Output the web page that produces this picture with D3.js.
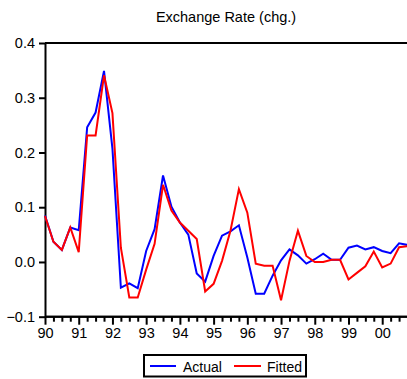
<!DOCTYPE html>
<html>
<head>
<meta charset="utf-8">
<script src="https://cdn.jsdelivr.net/npm/d3@7"></script>
<style>
  html, body { margin: 0; padding: 0; background: #fff; }
  svg { display: block; font-family: "Liberation Sans", Arial, sans-serif; }
</style>
</head>
<body>
<svg id="chart" width="407" height="379"></svg>
<script>
// Quarterly exchange rate changes, 1990Q1 - 2000Q4
const startYear = 1990;
const actual = [0.085, 0.037, 0.022, 0.063, 0.058, 0.246, 0.273, 0.349, 0.207, -0.047,
  -0.039, -0.048, 0.020, 0.060, 0.158, 0.101, 0.072, 0.050, -0.021, -0.036,
  0.011, 0.048, 0.056, 0.067, 0.008, -0.058, -0.058, -0.025, 0.003, 0.023,
  0.012, -0.003, 0.005, 0.015, 0.004, 0.004, 0.026, 0.030, 0.023, 0.027,
  0.020, 0.016, 0.034, 0.031];
const fitted = [0.084, 0.037, 0.022, 0.063, 0.018, 0.231, 0.231, 0.341, 0.272, 0.026,
  -0.065, -0.065, -0.014, 0.033, 0.141, 0.094, 0.072, 0.057, 0.042, -0.054,
  -0.040, 0.002, 0.057, 0.133, 0.090, -0.003, -0.007, -0.007, -0.070, 0.002,
  0.057, 0.011, 0.000, 0.000, 0.004, 0.004, -0.032, -0.020, -0.008, 0.019,
  -0.010, -0.003, 0.027, 0.029];
const yearTicks = [1990, 1991, 1992, 1993, 1994, 1995, 1996, 1997, 1998, 1999, 2000];
const yTicks = [-0.1, 0.0, 0.1, 0.2, 0.3, 0.4];
const seriesNames = ["Actual", "Fitted"];
const seriesColors = ["#0000ff", "#ff0000"];

const svg = d3.select("#chart");
const plotLeft = 45, plotRight = 407.5, plotTop = 43, plotBottom = 316.7;

const x = d3.scaleLinear().domain([1990, 2000.75]).range([plotLeft, plotRight]);
const y = d3.scaleLinear().domain([-0.1, 0.4]).range([plotBottom, plotTop]);

// Title
svg.append("text")
  .attr("x", 226).attr("y", 22)
  .attr("text-anchor", "middle")
  .attr("font-size", 14.5)
  .text("Exchange Rate (chg.)");

// Top frame line
svg.append("line")
  .attr("x1", plotLeft).attr("x2", 407)
  .attr("y1", plotTop).attr("y2", plotTop)
  .attr("stroke", "#000").attr("stroke-width", 2);

// Y axis
const yAxis = svg.append("g")
  .attr("transform", `translate(${plotLeft},0)`)
  .call(d3.axisLeft(y).tickValues(yTicks).tickFormat(d3.format(".1f")).tickSize(6).tickSizeOuter(0).tickPadding(4));
yAxis.selectAll("text").attr("font-size", 14.5).attr("fill", "#000").style("font-family", "Liberation Sans, Arial, sans-serif");

// X axis: quarterly minor ticks, yearly labels
const quarterTicks = d3.range(0, 44).map(i => startYear + i / 4);
const xMinor = svg.append("g")
  .attr("transform", `translate(0,${plotBottom})`)
  .call(d3.axisBottom(x).tickValues(quarterTicks.filter(v => v % 1 !== 0)).tickFormat("").tickSize(5).tickSizeOuter(0));
const xAxis = svg.append("g")
  .attr("transform", `translate(0,${plotBottom})`)
  .call(d3.axisBottom(x).tickValues(yearTicks).tickFormat(d => String(d).slice(2)).tickSize(8).tickSizeOuter(0).tickPadding(3));
xAxis.selectAll("text").attr("font-size", 14.5).attr("fill", "#000").style("font-family", "Liberation Sans, Arial, sans-serif");

[yAxis, xMinor, xAxis].forEach(g => {
  g.selectAll("line").attr("stroke", "#000").attr("stroke-width", 2);
  g.select(".domain").attr("stroke", "#000").attr("stroke-width", 2);
});
xMinor.select(".domain").attr("d", `M${plotLeft},0H407`);
xAxis.select(".domain").attr("d", `M${plotLeft},0H407`);

// Series lines
const line = d3.line()
  .x((d, i) => x(startYear + i / 4))
  .y(d => y(d));

const plot = svg.append("g");
[actual, fitted].forEach((series, k) => {
  plot.append("path")
    .datum(series)
    .attr("fill", "none")
    .attr("stroke", seriesColors[k])
    .attr("stroke-width", 2)
    .attr("stroke-linejoin", "miter")
    .attr("d", line);
});

// Legend
const legend = svg.append("g");
legend.append("rect")
  .attr("x", 144).attr("y", 355)
  .attr("width", 162).attr("height", 21.5)
  .attr("fill", "#fff").attr("stroke", "#000").attr("stroke-width", 2);
const legendItems = [
  { x1: 150, x2: 176, tx: 183 },
  { x1: 234, x2: 261, tx: 267 }
];
legendItems.forEach((it, k) => {
  legend.append("line")
    .attr("x1", it.x1).attr("x2", it.x2)
    .attr("y1", 366).attr("y2", 366)
    .attr("stroke", seriesColors[k]).attr("stroke-width", 2);
  legend.append("text")
    .attr("x", it.tx).attr("y", 372)
    .attr("font-size", 14)
    .text(seriesNames[k]);
});
</script>
</body>
</html>
